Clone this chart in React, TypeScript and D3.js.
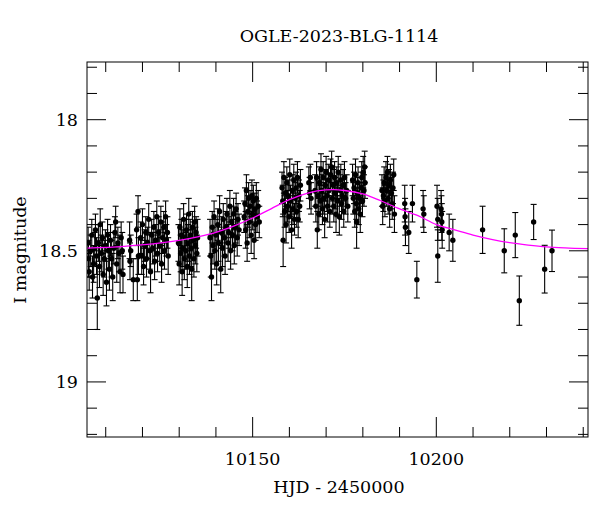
import React from 'react';
import * as d3 from 'd3';

// OGLE photometry, HJD - 2450000
const hjd = [
  10105.2, 10105.3, 10105.5, 10105.9, 10106.2, 10106.4, 10106.7, 10107.0, 10107.2, 10107.5,
  10107.7, 10108.0, 10108.3, 10108.5, 10108.8, 10109.1, 10109.3, 10109.6, 10109.9, 10110.2,
  10110.5, 10110.7, 10111.0, 10111.3, 10111.6, 10111.9, 10112.2, 10112.5, 10112.7, 10113.0,
  10113.3, 10113.6, 10113.9, 10114.2, 10114.5, 10114.7,
  10116.5, 10116.6, 10116.8, 10117.5, 10118.4, 10118.6, 10118.8, 10118.9,
  10119.5, 10119.8, 10120.0, 10120.3, 10120.6, 10120.9, 10121.1, 10121.4, 10121.7, 10122.0,
  10122.2, 10122.5, 10122.8, 10123.1, 10123.3, 10123.6, 10123.9, 10124.1, 10124.4, 10124.7,
  10125.0, 10125.2, 10125.5, 10125.8, 10126.0, 10126.3, 10126.5, 10126.8, 10127.0,
  10129.8, 10130.0, 10130.2, 10130.4, 10130.6, 10130.8, 10131.0, 10131.2, 10131.4, 10131.6,
  10131.8, 10132.0, 10132.2, 10132.4, 10132.6, 10132.8, 10133.0, 10133.2, 10133.4, 10133.6,
  10133.8, 10134.0, 10134.2, 10134.4, 10134.6, 10134.8, 10135.0,
  10138.4, 10138.6, 10138.8, 10139.0, 10139.2, 10139.5, 10139.7, 10140.0, 10140.2, 10140.5,
  10140.7, 10141.0, 10141.3, 10141.5, 10141.8, 10142.0, 10142.3, 10142.5, 10142.8, 10143.0,
  10143.3, 10143.5, 10143.8, 10144.0, 10144.3, 10144.5, 10144.8, 10145.0, 10145.3, 10145.5,
  10145.8, 10146.0, 10146.3,
  10147.7, 10147.9, 10148.1, 10148.3, 10148.5, 10148.7, 10148.9, 10149.1, 10149.3, 10149.6,
  10149.8, 10150.0, 10150.2, 10150.4, 10150.6, 10150.8, 10151.0, 10151.2, 10151.5, 10151.8,
  10158.0, 10158.2, 10158.3, 10158.5, 10158.7, 10158.9, 10159.1, 10159.3, 10159.5, 10159.7,
  10159.9, 10160.1, 10160.3, 10160.6, 10160.8, 10161.0, 10161.2, 10161.4, 10161.6, 10161.8,
  10162.0, 10162.2, 10162.4, 10162.6, 10162.8, 10163.0,
  10165.3, 10165.5, 10165.7, 10165.9,
  10167.0, 10167.2, 10167.4, 10167.6, 10167.8, 10168.0, 10168.2, 10168.4, 10168.6, 10168.8,
  10169.0, 10169.2, 10169.4, 10169.6, 10169.8, 10170.0, 10170.2, 10170.4, 10170.6, 10170.8,
  10171.0, 10171.2, 10171.5, 10171.7, 10171.9, 10172.1, 10172.3, 10172.5, 10172.7, 10172.9,
  10173.1, 10173.3, 10173.6, 10173.8, 10174.0, 10174.2, 10174.4, 10174.6, 10174.8, 10175.0,
  10175.3, 10175.6, 10175.9,
  10177.2, 10177.4, 10177.6, 10177.8, 10178.0, 10178.2, 10178.3, 10178.5, 10178.7, 10178.9,
  10179.1, 10179.3, 10179.5, 10179.7, 10179.9, 10180.1, 10180.3, 10180.5, 10180.6,
  10185.2, 10185.4, 10185.6, 10185.8, 10186.0, 10186.3, 10186.5, 10186.7, 10186.9, 10187.1,
  10187.3, 10187.5, 10187.8, 10188.0, 10188.2, 10188.4, 10188.6,
  10191.4, 10191.5, 10191.6, 10192.5, 10193.5, 10194.7, 10196.4, 10196.6,
  10200.2, 10200.4, 10200.4, 10201.3, 10201.4, 10201.5, 10201.6, 10203.5, 10204.5,
  10212.6, 10218.5, 10221.5, 10222.6, 10226.5, 10229.5, 10231.5,
];

const mag = [
  18.47, 18.53, 18.58, 18.50, 18.44, 18.60, 18.55, 18.49, 18.42, 18.52,
  18.68, 18.47, 18.56, 18.40, 18.51, 18.45, 18.59, 18.53, 18.48, 18.62,
  18.44, 18.50, 18.57, 18.46, 18.53, 18.60, 18.49, 18.43, 18.39, 18.55,
  18.47, 18.51, 18.58, 18.45, 18.50, 18.59,
  18.46, 18.54, 18.50, 18.61, 18.42, 18.61, 18.35, 18.52,
  18.45, 18.52, 18.40, 18.56, 18.48, 18.43, 18.53, 18.47, 18.38, 18.50,
  18.58, 18.44, 18.49, 18.41, 18.54, 18.46, 18.37, 18.51, 18.43, 18.48,
  18.39, 18.55, 18.45, 18.41, 18.50, 18.37, 18.46, 18.43, 18.52,
  18.47, 18.55, 18.41, 18.51, 18.44, 18.58, 18.49, 18.38, 18.53, 18.45,
  18.50, 18.42, 18.56, 18.47, 18.36, 18.52, 18.44, 18.49, 18.57, 18.41,
  18.46, 18.53, 18.39, 18.48, 18.43, 18.51, 18.45,
  18.45, 18.52, 18.60, 18.41, 18.48, 18.37, 18.50, 18.44, 18.55, 18.40,
  18.47, 18.35, 18.57, 18.43, 18.49, 18.38, 18.45, 18.52, 18.41, 18.36,
  18.47, 18.43, 18.33, 18.50, 18.39, 18.44, 18.36, 18.48, 18.41, 18.34,
  18.45, 18.38, 18.42,
  18.37, 18.32, 18.42, 18.27, 18.47, 18.35, 18.30, 18.39, 18.33, 18.44,
  18.29, 18.36, 18.31, 18.46, 18.34, 18.40, 18.30, 18.37, 18.33, 18.39,
  18.26, 18.31, 18.46, 18.22, 18.35, 18.28, 18.40, 18.24, 18.33, 18.29,
  18.37, 18.21, 18.31, 18.42, 18.27, 18.34, 18.23, 18.38, 18.30, 18.26,
  18.35, 18.22, 18.38, 18.29, 18.33, 18.25,
  18.24, 18.28, 18.22, 18.30,
  18.27, 18.33, 18.22, 18.42, 18.29, 18.36, 18.24, 18.31, 18.19, 18.27,
  18.34, 18.22, 18.30, 18.38, 18.25, 18.20, 18.29, 18.33, 18.23, 18.27,
  18.35, 18.21, 18.18, 18.30, 18.25, 18.33, 18.22, 18.28, 18.36, 18.24,
  18.31, 18.20, 18.37, 18.27, 18.23, 18.32, 18.29, 18.25, 18.35, 18.22,
  18.30, 18.27, 18.33,
  18.23, 18.30, 18.26, 18.35, 18.21, 18.32, 18.39, 18.28, 18.24, 18.34,
  18.30, 18.36, 18.26, 18.22, 18.31, 18.20, 18.27, 18.18, 18.24,
  18.27, 18.33, 18.29, 18.24, 18.31, 18.22, 18.27, 18.20, 18.30, 18.25,
  18.34, 18.23, 18.28, 18.32, 18.26, 18.21, 18.36,
  18.32, 18.37, 18.41, 18.43, 18.32, 18.61, 18.34, 18.36,
  18.33, 18.38, 18.52, 18.34, 18.36, 18.39, 18.42, 18.43, 18.46,
  18.42, 18.50, 18.44, 18.69, 18.39, 18.57, 18.50,
];

const magErr = [
  0.06, 0.07, 0.07, 0.06, 0.06, 0.08, 0.07, 0.06, 0.06, 0.07,
  0.12, 0.07, 0.08, 0.06, 0.07, 0.06, 0.08, 0.07, 0.06, 0.09,
  0.06, 0.07, 0.08, 0.06, 0.07, 0.09, 0.06, 0.06, 0.06, 0.07,
  0.06, 0.07, 0.08, 0.06, 0.07, 0.07,
  0.07, 0.07, 0.06, 0.08, 0.06, 0.08, 0.06, 0.07,
  0.06, 0.07, 0.06, 0.07, 0.06, 0.06, 0.07, 0.06, 0.06, 0.07,
  0.08, 0.06, 0.06, 0.06, 0.07, 0.06, 0.06, 0.07, 0.06, 0.06,
  0.06, 0.07, 0.06, 0.06, 0.07, 0.06, 0.06, 0.06, 0.07,
  0.07, 0.08, 0.07, 0.07, 0.06, 0.09, 0.07, 0.06, 0.08, 0.07,
  0.07, 0.06, 0.08, 0.07, 0.06, 0.07, 0.06, 0.07, 0.12, 0.06,
  0.07, 0.07, 0.06, 0.07, 0.06, 0.07, 0.07,
  0.07, 0.08, 0.09, 0.06, 0.07, 0.06, 0.07, 0.06, 0.08, 0.06,
  0.07, 0.06, 0.09, 0.06, 0.07, 0.06, 0.07, 0.07, 0.06, 0.06,
  0.07, 0.06, 0.06, 0.07, 0.06, 0.06, 0.06, 0.07, 0.06, 0.06,
  0.07, 0.06, 0.06,
  0.06, 0.06, 0.07, 0.06, 0.07, 0.06, 0.06, 0.06, 0.06, 0.07,
  0.06, 0.06, 0.06, 0.07, 0.06, 0.06, 0.06, 0.06, 0.06, 0.06,
  0.06, 0.06, 0.10, 0.06, 0.06, 0.06, 0.07, 0.06, 0.06, 0.06,
  0.06, 0.06, 0.06, 0.07, 0.06, 0.06, 0.06, 0.06, 0.06, 0.06,
  0.06, 0.06, 0.07, 0.06, 0.06, 0.06,
  0.06, 0.06, 0.05, 0.06,
  0.06, 0.06, 0.06, 0.07, 0.06, 0.06, 0.06, 0.06, 0.06, 0.06,
  0.06, 0.06, 0.06, 0.07, 0.06, 0.06, 0.06, 0.06, 0.06, 0.06,
  0.06, 0.06, 0.06, 0.06, 0.06, 0.06, 0.06, 0.06, 0.07, 0.06,
  0.06, 0.06, 0.07, 0.06, 0.06, 0.06, 0.06, 0.06, 0.06, 0.06,
  0.06, 0.06, 0.06,
  0.06, 0.06, 0.06, 0.06, 0.06, 0.06, 0.10, 0.06, 0.06, 0.06,
  0.06, 0.07, 0.06, 0.06, 0.06, 0.06, 0.06, 0.06, 0.06,
  0.06, 0.07, 0.06, 0.06, 0.06, 0.06, 0.06, 0.06, 0.06, 0.06,
  0.07, 0.06, 0.06, 0.06, 0.06, 0.06, 0.07,
  0.07, 0.07, 0.07, 0.08, 0.07, 0.07, 0.07, 0.07,
  0.08, 0.08, 0.10, 0.07, 0.07, 0.07, 0.07, 0.07, 0.08,
  0.09, 0.084, 0.086, 0.094, 0.067, 0.091, 0.079,
];

// best-fit model
const modelHjd = [
  10104.9, 10115, 10125, 10130, 10135, 10140, 10145, 10150, 10155, 10160,
  10165, 10170, 10172, 10175, 10180, 10185, 10190, 10195, 10200, 10205,
  10210, 10215, 10220, 10225, 10230, 10235, 10241.3,
];
const modelMag = [
  18.490, 18.483, 18.470, 18.460, 18.447, 18.430, 18.405, 18.375, 18.340, 18.305,
  18.280, 18.268, 18.267, 18.270, 18.283, 18.310, 18.340, 18.366, 18.400, 18.420,
  18.440, 18.456, 18.469, 18.478, 18.485, 18.489, 18.492,
];

const yTickLabels = ['18', '18.5', '19'];
const xTickLabels = ['10150', '10200'];

const W = 600;
const H = 512;
const margin = { top: 62, right: 12, bottom: 75, left: 87 };
const font = '"DejaVu Serif", serif';

const App = () => {
  const x = d3.scaleLinear().domain([10104.9, 10241.3]).range([margin.left, W - margin.right]);
  const y = d3.scaleLinear().domain([17.78, 19.21]).range([margin.top, H - margin.bottom]);

  const x0 = margin.left;
  const x1 = W - margin.right;
  const y0 = margin.top;
  const y1 = H - margin.bottom;

  // ticks: minor every 10 days / 0.1 mag, major every 50 days / 0.5 mag
  const xTicks = d3.range(10110, 10241, 10);
  const yTicks = d3.range(17.8, 19.21, 0.1).map(v => Math.round(v * 10) / 10);
  const isMajorX = (v: number) => v % 50 === 0;
  const isMajorY = (v: number) => Math.abs(v * 2 - Math.round(v * 2)) < 1e-6;

  const line = d3
    .line<number>()
    .x((d, i) => x(modelHjd[i]))
    .y(d => y(d))
    .curve(d3.curveMonotoneX);

  return (
    <svg width={W} height={H} style={{ position: 'absolute', left: 0, top: 0 }}>
      <rect width={W} height={H} fill="#fff" />
      <text x={339} y={42} textAnchor="middle" fontFamily={font} fontSize={17.5}>
        OGLE-2023-BLG-1114
      </text>

      <defs>
        <clipPath id="plot">
          <rect x={x0} y={y0} width={x1 - x0} height={y1 - y0} />
        </clipPath>
      </defs>

      {/* error bars */}
      <g clipPath="url(#plot)" stroke="#000" strokeWidth={1.1}>
        {hjd.map((t, i) => {
          const cx = x(t);
          const top = y(mag[i] - magErr[i]);
          const bot = y(mag[i] + magErr[i]);
          return (
            <g key={i}>
              <line x1={cx} x2={cx} y1={top} y2={bot} />
              <line x1={cx - 3} x2={cx + 3} y1={top} y2={top} />
              <line x1={cx - 3} x2={cx + 3} y1={bot} y2={bot} />
            </g>
          );
        })}
      </g>

      <g clipPath="url(#plot)" fill="#000">
        {hjd.map((t, i) => (
          <circle key={i} cx={x(t)} cy={y(mag[i])} r={2.7} />
        ))}
      </g>

      <path
        d={line(modelMag) || ''}
        fill="none"
        stroke="#ff00ff"
        strokeWidth={1.3}
        clipPath="url(#plot)"
      />

      {/* frame and ticks */}
      <rect x={x0} y={y0} width={x1 - x0} height={y1 - y0} fill="none" stroke="#000" strokeWidth={1} />
      <g stroke="#000" strokeWidth={1}>
        {xTicks.map(v => {
          const len = isMajorX(v) ? 20 : 10;
          return (
            <g key={v}>
              <line x1={x(v)} x2={x(v)} y1={y1} y2={y1 - len} />
              <line x1={x(v)} x2={x(v)} y1={y0} y2={y0 + len} />
            </g>
          );
        })}
        {yTicks.map(v => {
          const len = isMajorY(v) ? 19 : 10;
          return (
            <g key={v}>
              <line x1={x0} x2={x0 + len} y1={y(v)} y2={y(v)} />
              <line x1={x1} x2={x1 - len} y1={y(v)} y2={y(v)} />
            </g>
          );
        })}
      </g>

      <g fontFamily={font} fontSize={17.5}>
        {yTickLabels.map(s => (
          <text key={s} x={x0 - 9} y={y(+s)} dy="0.36em" textAnchor="end">
            {s}
          </text>
        ))}
        {xTickLabels.map(s => (
          <text key={s} x={x(+s)} y={465} textAnchor="middle">
            {s}
          </text>
        ))}
        <text x={339} y={493} textAnchor="middle">
          HJD - 2450000
        </text>
        <text transform="translate(26,250) rotate(-90)" textAnchor="middle">
          I magnitude
        </text>
      </g>
    </svg>
  );
};

export default App;
